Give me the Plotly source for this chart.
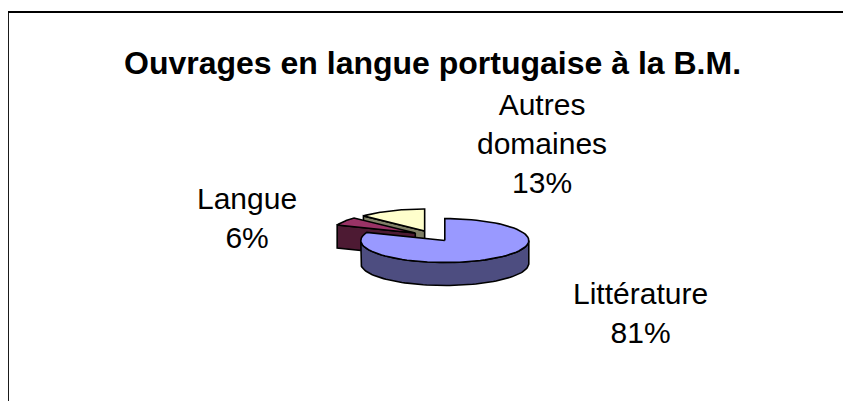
import numpy as np
import plotly.graph_objects as go

# ---- data ----
labels = ["Littérature", "Langue", "Autres domaines"]
values = [81, 6, 13]
label_text = ["Littérature<br>81%", "Langue<br>6%", "Autres<br>domaines<br>13%"]
title = "Ouvrages en langue portugaise à la B.M."

# ---- style / geometry ----
top_colors = ["#9999FF", "#993366", "#FFFFCC"]
side_colors = ["#4D4D80", "#4D1A33", "#808066"]
W, H = 851, 401
PAGE = 8  # default body margin of the html page
cx, cy = 433, 236
rx, ry = 84, 22
depth = 23
explode = 0.25
label_pos = [(640, 313), (247, 218), (542, 143)]
FONT = "Liberation Sans, Arial, sans-serif"

total = float(sum(values))
fr = np.array(values) / total
starts = np.concatenate([[0.0], np.cumsum(fr)[:-1]]) * 360.0
ends = np.cumsum(fr) * 360.0


def arc(ox, oy, a, b, dz=0.0, n=80):
    t = np.radians(np.linspace(a, b, n))
    return list(ox + rx * np.sin(t)), list(oy - ry * np.cos(t) + dz)


fig = go.Figure()


def poly(xs, ys, color):
    fig.add_trace(go.Scatter(
        x=xs + [xs[0]], y=ys + [ys[0]], mode="lines", fill="toself",
        fillcolor=color, line=dict(color="black", width=1.6),
        hoverinfo="skip", showlegend=False))


# draw back-to-front
order = sorted(range(len(values)),
               key=lambda i: -np.cos(np.radians((starts[i] + ends[i]) / 2)))
for i in order:
    s, e = starts[i], ends[i]
    mid = np.radians((s + e) / 2)
    ox = cx + explode * rx * np.sin(mid)
    oy = cy - explode * ry * np.cos(mid)
    # radial face at start angle
    if np.cos(np.radians(s - 90)) < -1e-6:
        t = np.radians(s)
        px, py = ox + rx * np.sin(t), oy - ry * np.cos(t)
        poly([ox, px, px, ox], [oy, py, py + depth, oy + depth], side_colors[i])
    # radial face at end angle
    if np.cos(np.radians(e + 90)) < -1e-6:
        t = np.radians(e)
        px, py = ox + rx * np.sin(t), oy - ry * np.cos(t)
        poly([ox, px, px, ox], [oy, py, py + depth, oy + depth], side_colors[i])
    # outer side (front half 90..270)
    a, b = max(s, 90.0), min(e, 270.0)
    if b > a:
        xt, yt = arc(ox, oy, a, b)
        xb, yb = arc(ox, oy, b, a, depth)
        poly(xt + xb, yt + yb, side_colors[i])
    # top face
    xt, yt = arc(ox, oy, s, e)
    poly([ox] + xt, [oy] + yt, top_colors[i])

annotations = [dict(x=x, y=y, xref="x", yref="y", text=t, showarrow=False,
                    font=dict(family=FONT, size=30, color="black"), align="center")
               for (x, y), t in zip(label_pos, label_text)]
annotations.append(dict(x=432, y=63, xref="x", yref="y", text="<b>" + title + "</b>",
                        showarrow=False, font=dict(family=FONT, size=32, color="black")))

shapes = [
    dict(type="line", xref="x", yref="y", x0=8, y0=12, x1=W + 20, y1=12,
         line=dict(color="black", width=1.8)),
    dict(type="line", xref="x", yref="y", x0=8, y0=12, x1=8, y1=H + 20,
         line=dict(color="black", width=1.8)),
]

fig.update_layout(
    width=W, height=H, margin=dict(l=0, r=0, t=0, b=0),
    paper_bgcolor="white", plot_bgcolor="white",
    xaxis=dict(range=[PAGE, PAGE + W], visible=False, fixedrange=True),
    yaxis=dict(range=[PAGE + H, PAGE], visible=False, fixedrange=True),
    annotations=annotations, shapes=shapes, showlegend=False,
)
fig.write_html("out.html", config={"displayModeBar": False})
